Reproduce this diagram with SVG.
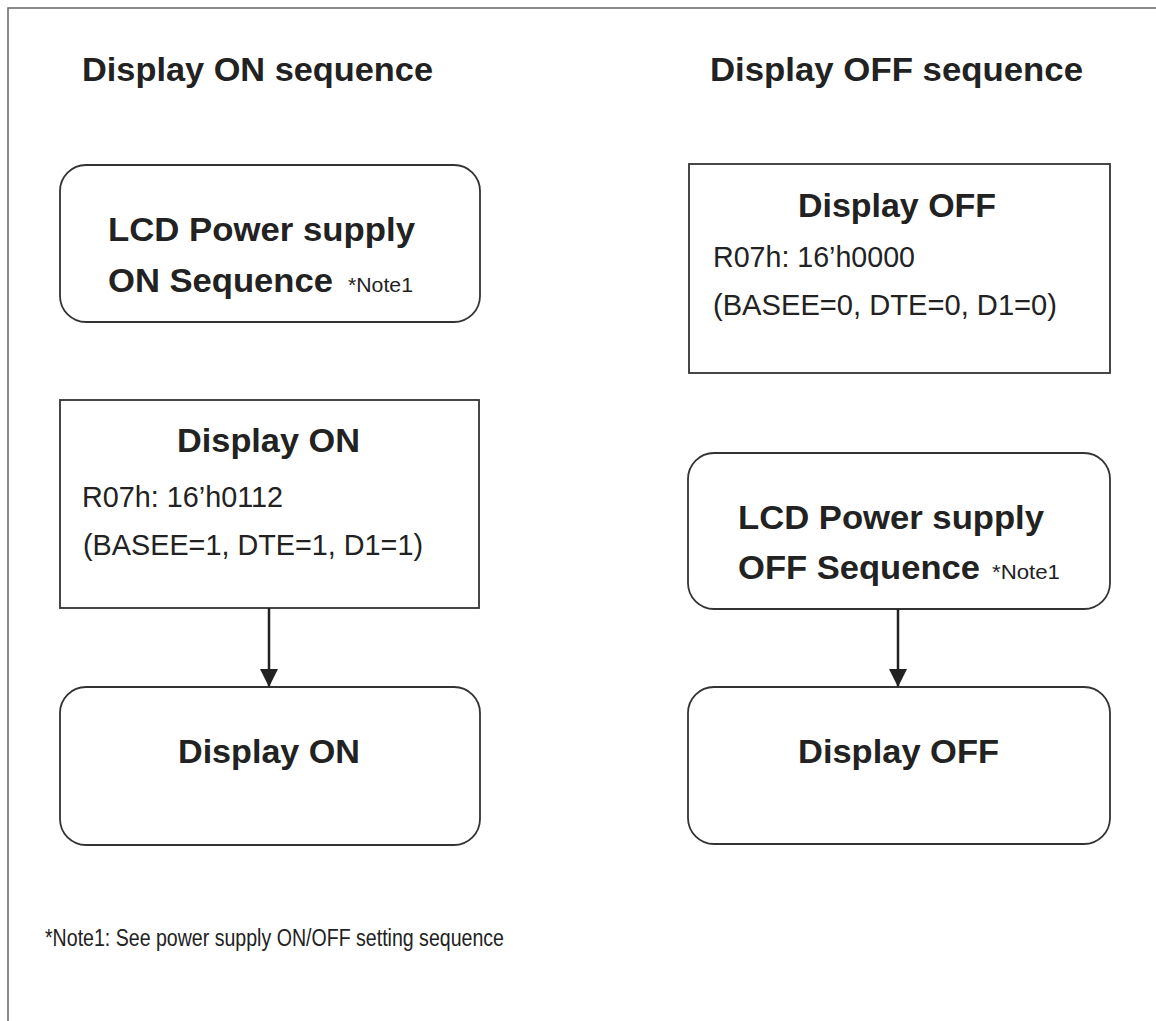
<svg xmlns="http://www.w3.org/2000/svg" width="1156" height="1021" viewBox="0 0 1156 1021">
<style>
  .frame { fill: none; stroke: #666; stroke-width: 1.5; }
  .box { fill: #fff; stroke: #333; stroke-width: 1.8; }
  .b { font-family: "Liberation Sans", Arial, sans-serif; font-weight: bold; font-size: 33px; fill: #222; }
  .r { font-family: "Liberation Sans", Arial, sans-serif; font-size: 29px; fill: #222; }
  .n { font-family: "Liberation Sans", Arial, sans-serif; font-size: 21px; fill: #222; }
  .f { font-family: "Liberation Sans", Arial, sans-serif; font-size: 23px; fill: #222; }
  .conn { stroke: #222; stroke-width: 2.5; fill: none; }
</style>
<defs>
  <marker id="arrow" markerUnits="userSpaceOnUse" markerWidth="18" markerHeight="20" refX="17" refY="9" orient="auto">
    <path d="M0,0 L18,9 L0,18 Z" fill="#222"/>
  </marker>
</defs>
<rect width="1156" height="1021" fill="#fff"/>
<path class="frame" d="M8,1021 L8,8 L1156,8"/>

<text class="b" x="82" y="81" textLength="351" lengthAdjust="spacingAndGlyphs">Display ON sequence</text>
<text class="b" x="710" y="81" textLength="373" lengthAdjust="spacingAndGlyphs">Display OFF sequence</text>

<g id="lcd-on">
  <rect class="box" x="60" y="165" width="420" height="157" rx="26"/>
  <text class="b" x="108" y="241" textLength="307" lengthAdjust="spacingAndGlyphs">LCD Power supply</text>
  <text class="b" x="108" y="292" textLength="225" lengthAdjust="spacingAndGlyphs">ON Sequence</text>
  <text class="n" x="348" y="292" textLength="65" lengthAdjust="spacingAndGlyphs">*Note1</text>
</g>

<g id="display-on-cmd">
  <rect class="box" x="60" y="400" width="419" height="208"/>
  <text class="b" x="177" y="452" textLength="183" lengthAdjust="spacingAndGlyphs">Display ON</text>
  <text class="r" x="82" y="507" textLength="201" lengthAdjust="spacingAndGlyphs">R07h: 16’h0112</text>
  <text class="r" x="83" y="555" textLength="340" lengthAdjust="spacingAndGlyphs">(BASEE=1, DTE=1, D1=1)</text>
</g>

<g id="display-on">
  <rect class="box" x="60" y="687" width="420" height="158" rx="26"/>
  <text class="b" x="178" y="763" textLength="182" lengthAdjust="spacingAndGlyphs">Display ON</text>
</g>

<g id="display-off-cmd">
  <rect class="box" x="689" y="164" width="421" height="209"/>
  <text class="b" x="798" y="217" textLength="198" lengthAdjust="spacingAndGlyphs">Display OFF</text>
  <text class="r" x="713" y="267" textLength="202" lengthAdjust="spacingAndGlyphs">R07h: 16’h0000</text>
  <text class="r" x="713" y="315" textLength="344" lengthAdjust="spacingAndGlyphs">(BASEE=0, DTE=0, D1=0)</text>
</g>

<g id="lcd-off">
  <rect class="box" x="688" y="453" width="422" height="156" rx="26"/>
  <text class="b" x="738" y="529" textLength="306" lengthAdjust="spacingAndGlyphs">LCD Power supply</text>
  <text class="b" x="738" y="579" textLength="242" lengthAdjust="spacingAndGlyphs">OFF Sequence</text>
  <text class="n" x="992" y="579" textLength="68" lengthAdjust="spacingAndGlyphs">*Note1</text>
</g>

<g id="display-off">
  <rect class="box" x="688" y="687" width="422" height="157" rx="26"/>
  <text class="b" x="798" y="763" textLength="201" lengthAdjust="spacingAndGlyphs">Display OFF</text>
</g>

<g id="connectors">
  <line class="conn" x1="269" y1="608" x2="269" y2="686" marker-end="url(#arrow)"/>
  <line class="conn" x1="898" y1="609" x2="898" y2="686" marker-end="url(#arrow)"/>
</g>

<text class="f" x="45" y="946" textLength="459" lengthAdjust="spacingAndGlyphs">*Note1: See power supply ON/OFF setting sequence</text>
</svg>
